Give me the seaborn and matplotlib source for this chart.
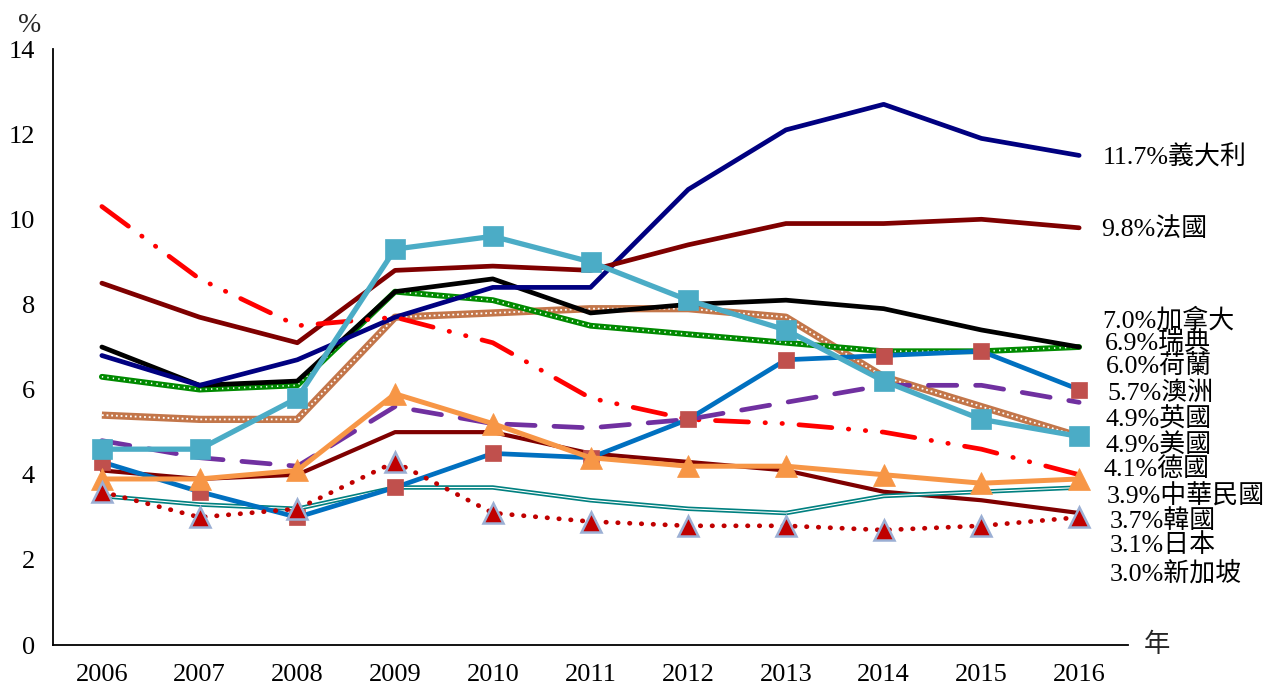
import numpy as np
import pandas as pd
import matplotlib
matplotlib.use("Agg")
import matplotlib.pyplot as plt
import seaborn as sns

sns.set_style("white")
plt.rcParams['font.family'] = ['Liberation Serif', 'Noto Sans CJK TC', 'DejaVu Sans']

years = [2006, 2007, 2008, 2009, 2010, 2011, 2012, 2013, 2014, 2015, 2016]

italy       = [6.8, 6.1, 6.7, 7.7, 8.4, 8.4, 10.7, 12.1, 12.7, 11.9, 11.5]
france      = [8.5, 7.7, 7.1, 8.8, 8.9, 8.8, 9.4, 9.9, 9.9, 10.0, 9.8]
canada      = [7.0, 6.1, 6.2, 8.3, 8.6, 7.8, 8.0, 8.1, 7.9, 7.4, 7.0]
sweden      = [6.3, 6.0, 6.1, 8.3, 8.1, 7.5, 7.3, 7.1, 6.9, 6.9, 7.0]
netherlands = [4.3, 3.6, 3.0, 3.7, 4.5, 4.4, 5.3, 6.7, 6.8, 6.9, 6.0]
australia   = [4.8, 4.4, 4.2, 5.6, 5.2, 5.1, 5.3, 5.7, 6.1, 6.1, 5.7]
uk          = [5.4, 5.3, 5.3, 7.7, 7.8, 7.9, 7.9, 7.7, 6.3, 5.6, 4.9]
usa         = [4.6, 4.6, 5.8, 9.3, 9.6, 9.0, 8.1, 7.4, 6.2, 5.3, 4.9]
germany     = [10.3, 8.6, 7.5, 7.7, 7.1, 5.8, 5.3, 5.2, 5.0, 4.6, 4.0]
taiwan      = [3.9, 3.9, 4.1, 5.9, 5.2, 4.4, 4.2, 4.2, 4.0, 3.8, 3.9]
korea       = [3.5, 3.3, 3.2, 3.7, 3.7, 3.4, 3.2, 3.1, 3.5, 3.6, 3.7]
japan       = [4.1, 3.9, 4.0, 5.0, 5.0, 4.5, 4.3, 4.1, 3.6, 3.4, 3.1]
singapore   = [3.6, 3.0, 3.2, 4.3, 3.1, 2.9, 2.8, 2.8, 2.7, 2.8, 3.0]

label_texts = ["11.7%義大利", "9.8%法國", "7.0%加拿大", "6.9%瑞典", "6.0%荷蘭",
               "5.7%澳洲", "4.9%英國", "4.9%美國", "4.1%德國", "3.9%中華民國",
               "3.7%韓國", "3.1%日本", "3.0%新加坡"]
label_y = [11.46, 9.77, 7.63, 7.09, 6.53, 5.92, 5.31, 4.70, 4.13, 3.50, 2.91, 2.35, 1.69]
label_dx = [0.24, 0.22, 0.24, 0.26, 0.27, 0.29, 0.27, 0.27, 0.25, 0.28, 0.31, 0.31, 0.31]

fig = plt.figure(figsize=(12.72, 6.84), dpi=100)
ax = fig.add_axes([53/1272, 39/684, (1128-53)/1272, (645-49)/684])

x = np.array(years)

def line(y, **kw):
    sns.lineplot(x=x, y=y, ax=ax, **kw)

# UK: checkered brown
line(uk, color='#C3764A', linewidth=5.2, solid_capstyle='butt')
line(uk, color='white', linewidth=1.3, linestyle=(0, (1, 1.6)))
# Sweden: green with white dots
line(sweden, color='#008A00', linewidth=4.2)
line(sweden, color='white', linewidth=1.2, linestyle=(0, (0.8, 2.5)))
# Canada
line(canada, color='black', linewidth=3.4)
# Italy
line(italy, color='#000080', linewidth=3.4)
# France
line(france, color='#7F0000', linewidth=3.4)
# Germany: dash-dot-dot red
line(germany, color='#FF0000', linewidth=3.4,
     linestyle=(0, (7, 3.5, 0.1, 3.5, 0.1, 3.5)), dash_capstyle='round')
# Australia: purple long dash
line(australia, color='#7030A0', linewidth=3.4,
     linestyle=(0, (6, 4)), dash_capstyle='round')
# Japan
line(japan, color='#7F0000', linewidth=3.0)
# Korea: teal double line
line(korea, color='#008080', linewidth=3.2)
line(korea, color='white', linewidth=0.8)
# Netherlands: blue line with red squares
line(netherlands, color='#0070C0', linewidth=3.4, marker='s', markersize=11,
     markerfacecolor='#C0504D', markeredgecolor='#C0504D', markeredgewidth=0.5)
# Taiwan: orange with triangles
line(taiwan, color='#F79646', linewidth=3.6, marker='^', markersize=16,
     markerfacecolor='#F79646', markeredgecolor='#F79646', markeredgewidth=0.5)
# Singapore: dotted dark red with red triangles
line(singapore, color='#C00000', linewidth=3.4, linestyle=(0, (0.1, 2.4)),
     dash_capstyle='round', marker='^', markersize=14,
     markerfacecolor='#C00000', markeredgecolor='#9BAFD4', markeredgewidth=1.8)
# USA: light blue with squares
line(usa, color='#4BACC6', linewidth=3.8, marker='s', markersize=15,
     markerfacecolor='#4BACC6', markeredgecolor='#4BACC6', markeredgewidth=0.5)

ax.set_xlim(2005.5, 2016.5)
ax.set_ylim(0, 14)
ax.set_yticks(np.arange(0, 15, 2))
ax.set_yticklabels([str(v) for v in range(0, 15, 2)])
ax.set_xticks(years)
ax.set_xticklabels([str(y) for y in years])
ax.set_xticks(np.arange(2005.5, 2017.0, 1.0), minor=True)
ax.tick_params(axis='x', which='major', length=0, pad=14, labelsize=19, colors='black')
ax.tick_params(axis='x', which='minor', length=6, direction='in', color='#555555', width=1)
ax.tick_params(axis='y', which='major', length=6, direction='in', color='#777777', width=1,
               pad=13, labelsize=19, labelcolor='black')
ax.set_xlabel('')
ax.set_ylabel('')
ax.grid(False)
for s in ['top', 'right']:
    ax.spines[s].set_visible(False)
for s in ['left', 'bottom']:
    ax.spines[s].set_color('black')
    ax.spines[s].set_linewidth(1.3)

for t, yy, dx in zip(label_texts, label_y, label_dx):
    ax.text(years[-1] + dx, yy, t, fontsize=18.7, va='center', ha='left',
            color='black', clip_on=False)

fig.text(30/1272, 1 - 25/684, '%', fontsize=20, ha='center', va='center')
fig.text(1157/1272, 1 - 645/684, '年', fontsize=19, ha='center', va='center')

fig.savefig('out.png', dpi=100)
